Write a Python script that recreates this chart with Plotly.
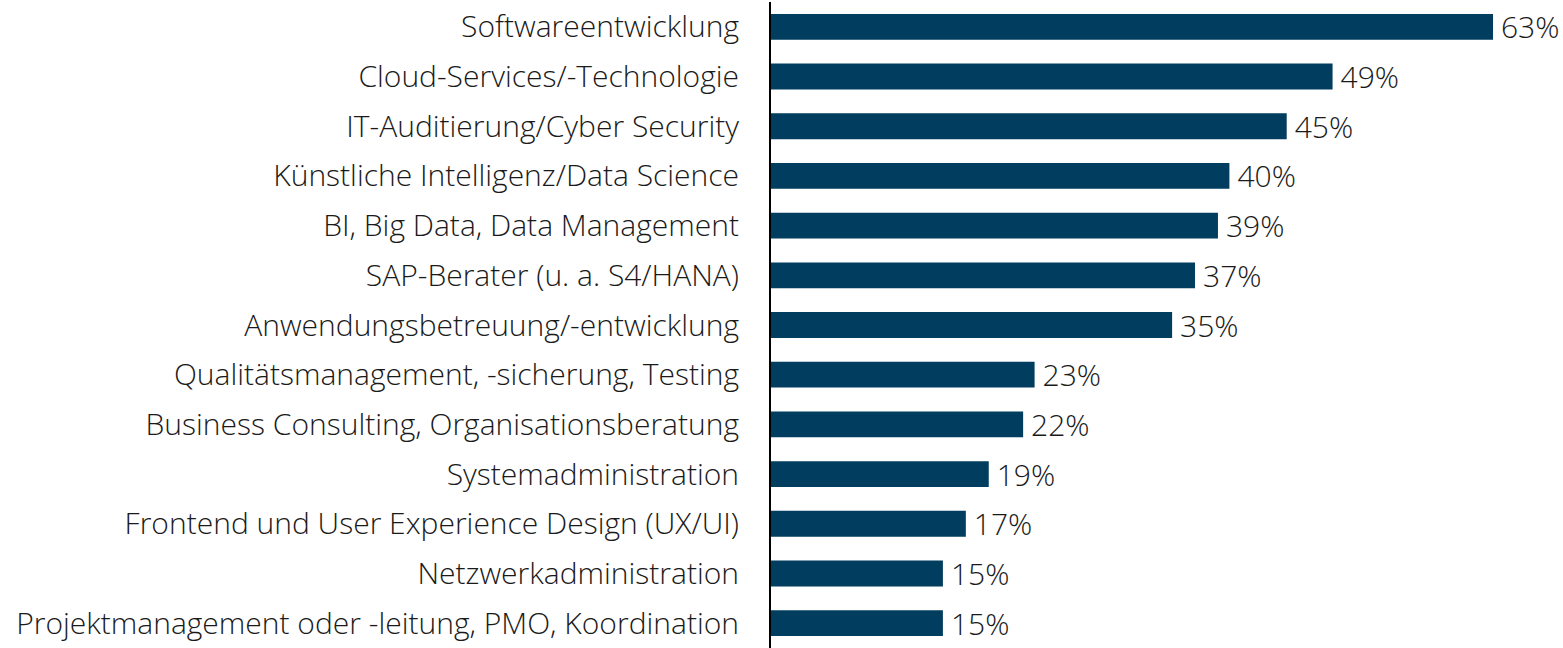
import plotly.graph_objects as go

categories = [
    "Softwareentwicklung",
    "Cloud-Services/-Technologie",
    "IT-Auditierung/Cyber Security",
    "Künstliche Intelligenz/Data Science",
    "BI, Big Data, Data Management",
    "SAP-Berater (u. a. S4/HANA)",
    "Anwendungsbetreuung/-entwicklung",
    "Qualitätsmanagement, -sicherung, Testing",
    "Business Consulting, Organisationsberatung",
    "Systemadministration",
    "Frontend und User Experience Design (UX/UI)",
    "Netzwerkadministration",
    "Projektmanagement oder -leitung, PMO, Koordination",
]
values = [63, 49, 45, 40, 39, 37, 35, 23, 22, 19, 17, 15, 15]
labels = [f"\u2009{v}%" for v in values]

FONT = dict(family="Open Sans", size=30, color="#1a1a1a", weight=300)

fig = go.Figure(go.Bar(
    x=values,
    y=categories,
    orientation="h",
    marker=dict(color="#003d5e", line=dict(width=0)),
    text=labels,
    textposition="outside",
    textfont=FONT,
    constraintext="none",
    cliponaxis=False,
    width=0.52,
))

fig.update_layout(
    width=1563, height=648,
    margin=dict(l=771, r=70, t=2, b=0, autoexpand=False),
    paper_bgcolor="white", plot_bgcolor="white",
    font=FONT,
    showlegend=False,
    xaxis=dict(range=[0, 63], visible=False, fixedrange=True, automargin=False),
    yaxis=dict(
        autorange="reversed", automargin=False,
        showline=True, linecolor="black", linewidth=2,
        showgrid=False, ticks="", ticklabelstandoff=24,
        tickfont=FONT,
    ),
)
fig.update_traces(textangle=0)
fig.write_html(
    "out.html",
    config={"displayModeBar": False},
    post_script="document.body.style.margin='0px';",
)
